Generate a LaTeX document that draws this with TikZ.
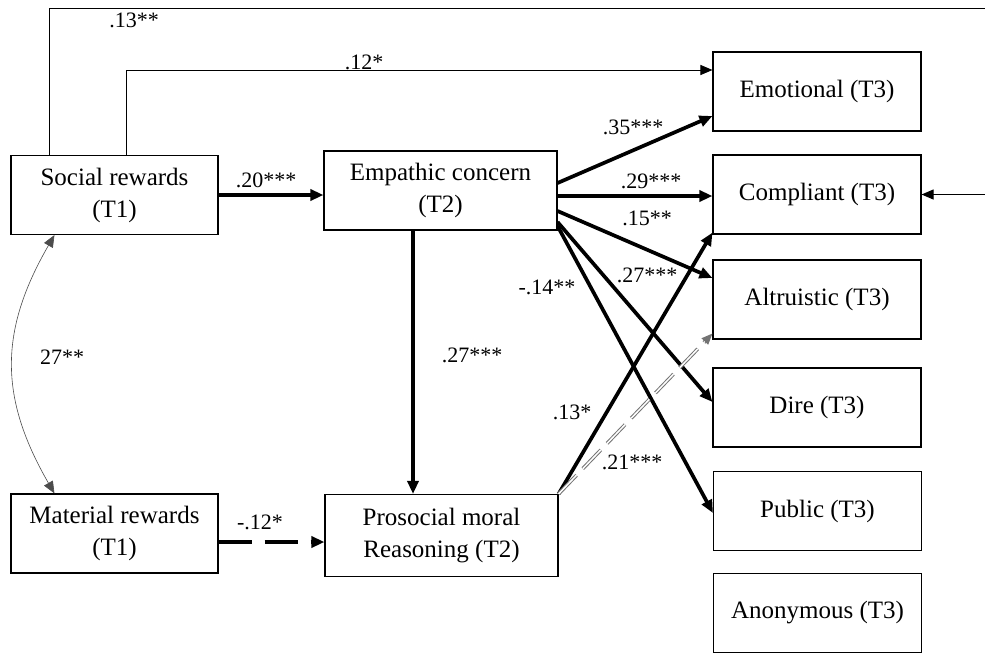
\documentclass[tikz,border=0pt]{standalone}
\usepackage{fontspec}
\setmainfont{Liberation Serif}
\usetikzlibrary{arrows.meta}

\tikzset{
  varbox/.style={draw, line width=1.1pt, align=center, inner sep=0pt,
    minimum width=207pt, minimum height=79pt,
    font=\fontsize{25}{32}\selectfont},
  coef/.style={inner sep=0pt, font=\fontsize{22}{24}\selectfont},
  thinpath/.style={line width=1pt, -{Triangle[length=12pt,width=10pt]}},
  thickpath/.style={line width=3.7pt, -{Triangle[length=13pt,width=11pt]}},
}

\begin{document}
\begin{tikzpicture}[x=1pt, y=-1pt]
    % the frame of the picture
    \clip (0,0) rectangle (985,654);
    \fill[white] (0,0) rectangle (985,654);

    % the boxes on the left (T1)
    \node[varbox] (social) at (114.5, 195) {Social rewards\\(T1)};
    \node[varbox] (material) at (114.5, 533.5) {Material rewards\\(T1)};

    % the boxes in the middle (T2)
    \node[varbox, minimum width=233pt] (empathic) at (440.5, 190.5) {Empathic concern\\(T2)};
    \node[varbox, minimum width=233pt, minimum height=82pt] (prosocial) at (441.5, 535.5) {Prosocial moral\\Reasoning (T2)};

    % the boxes on the right (T3)
    \node[varbox, minimum width=208pt] (emotional) at (817, 91.5) {Emotional (T3)};
    \node[varbox, minimum width=208pt] (compliant) at (817, 194.5) {Compliant (T3)};
    \node[varbox, minimum width=208pt] (altruistic) at (817, 299.5) {Altruistic (T3)};
    \node[varbox, minimum width=208pt] (dire) at (817, 407.5) {Dire (T3)};
    \node[varbox, minimum width=208pt] (public) at (817.5, 511) {Public (T3)};
    \node[varbox, minimum width=208pt] (anonymous) at (817.5, 613) {Anonymous (T3)};

    % the path round the top, out of the picture and back to Compliant
    \coordinate (rimtop) at (995, 8);
    \draw[thinpath] ([xshift=39pt]social.north west) |- (rimtop) |- (compliant.east);
    \node[coef] (c13top) at (134, 20) {.13**};

    % Social rewards -> Emotional
    \draw[thinpath] ([xshift=116pt]social.north west) |- ([yshift=21.5pt]emotional.west);
    \node[coef] (c12) at (364, 62) {.12*};

    % Social rewards -> Empathic concern
    \draw[thickpath] (social.east) -- (social.east -| empathic.west);
    \node[coef] (c20) at (266, 180) {.20***};

    % the correlation between the rewards
    \draw[line width=0.6pt, draw=black!70, {Triangle[length=12pt,width=10pt]}-{Triangle[length=12pt,width=10pt]}]
        ([xshift=44pt]social.south west) to[out=240, in=120, looseness=1.1] ([xshift=44pt]material.north west);
    \node[coef] (c27cor) at (62, 357) {27**};

    % Material rewards -> Prosocial moral reasoning (dashed)
    \draw[thickpath, dash pattern=on 33pt off 13pt]
        ([yshift=-8.5pt]material.east) -- ([yshift=-8.5pt]material.east -| prosocial.west);
    \node[coef] (c12neg) at (260, 522) {-.12*};

    % Empathic concern -> Prosocial moral reasoning
    \draw[thickpath] ([xshift=-27.5pt]empathic.south) -- ([xshift=-27.5pt]empathic.south |- prosocial.north);
    \node[coef] (c27mid) at (472, 355) {.27***};

    % Empathic concern -> the T3 boxes
    \draw[thickpath] ([yshift=7.5pt]empathic.east) -- ([yshift=-24.5pt]emotional.west);
    \draw[thickpath] ([yshift=-5.5pt]empathic.east) -- ([yshift=-5.5pt]empathic.east -| compliant.west);
    \draw[thickpath] ([yshift=-20.5pt]empathic.east) -- ([yshift=21.5pt]altruistic.west);
    \draw[thickpath] ([yshift=-31.5pt]empathic.east) -- ([yshift=5.5pt]dire.west);
    \draw[thickpath] ([yshift=-35.5pt]empathic.east) -- ([yshift=-2pt]public.west);
    \node[coef] (c35) at (633, 127) {.35***};
    \node[coef] (c29) at (651, 181) {.29***};
    \node[coef] (c15) at (647, 218) {.15**};
    \node[coef] (c27dire) at (647, 275) {.27***};
    \node[coef] (c14) at (547, 287) {-.14**};

    % Prosocial moral reasoning -> Compliant and Altruistic
    \draw[thickpath] (prosocial.north east) -- ([yshift=2pt]compliant.south west);
    \draw[line width=1pt, draw=black!55, double=white, double distance=1.5pt,
        dash pattern=on 26pt off 9pt, -{Triangle[length=11pt,width=9pt]}]
        (prosocial.north east) -- ([yshift=6pt]altruistic.south west);
    \node[coef] (c13) at (572, 412) {.13*};
    \node[coef] (c21) at (632, 462) {.21***};
\end{tikzpicture}
\end{document}
